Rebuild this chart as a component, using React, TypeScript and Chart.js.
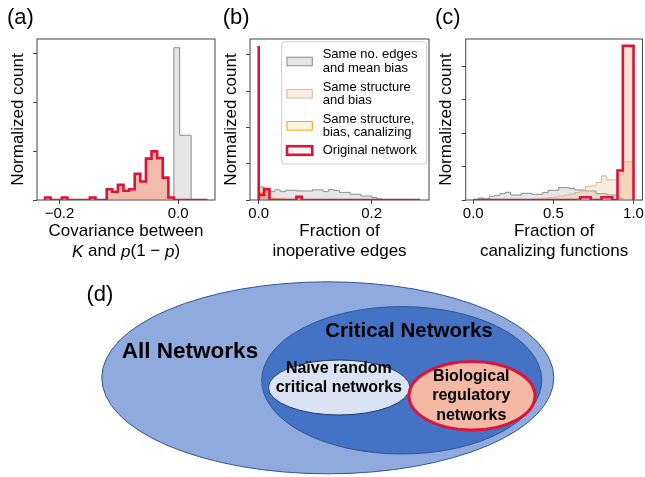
import React, { useEffect, useRef } from "react";
import { Chart, registerables } from "chart.js";

Chart.register(...registerables);

const FONT = "'Liberation Sans', Arial, Helvetica, sans-serif";
Chart.defaults.font.family = FONT;
Chart.defaults.color = "#000";

// ---------------- DATA ----------------
// (a) Covariance between K and p(1-p)
const covTicks = [-0.2, 0.0];
const covBinStart = -0.2245;
const covBinWidth = 0.00945;
const covOriginal = [0, 0.05, 0, 0, 0.05, 0, 0, 0, 0, 0.05, 0, 0, 0.22, 0.17, 0.31, 0.19, 0.22, 0.54, 0.38, 0.85, 1.0, 0.86, 0.46, 0.05, 0, 0, 0, 0, 0];
const covStructure = [0, 0.05, 0, 0, 0.05, 0, 0, 0, 0, 0.05, 0, 0, 0.22, 0.17, 0.31, 0.19, 0.22, 0.54, 0.38, 0.85, 1.0, 0.86, 0.46, 0.05, 0, 0, 0, 0, 0];
const covCanalizing = [0, 0.05, 0, 0, 0.05, 0, 0, 0, 0, 0.05, 0, 0, 0.22, 0.17, 0.31, 0.19, 0.22, 0.54, 0.38, 0.85, 1.0, 0.86, 0.46, 0.05, 0, 0, 0, 0, 0];
const covGrayStart = -0.0073;
const covGrayWidth = 0.0097;
const covGray = [0.77, 3.13, 1.33];

// (b) Fraction of inoperative edges
const inopTicks = [0.0, 0.2];
const inopBinStart = 0;
const inopBinWidth = 0.00952;
const inopOriginal = [4.24, 0.14, 0.3, 0, 0, 0, 0, 0, 0.09, 0, 0, 0, 0, 0, 0, 0, 0, 0, 0, 0, 0, 0, 0, 0, 0, 0, 0, 0, 0, 0];
const inopCanalizing = [4.1, 0.2, 0.22, 0.03, 0.02, 0.02, 0.01, 0, 0.03, 0, 0, 0, 0, 0, 0, 0, 0, 0, 0, 0, 0, 0, 0, 0, 0, 0, 0, 0, 0, 0];
const inopStructure = [4.0, 0.36, 0.12, 0.06, 0.04, 0.03, 0.02, 0.02, 0.01, 0.01, 0, 0, 0, 0, 0, 0, 0, 0, 0, 0, 0, 0, 0, 0, 0, 0, 0, 0, 0, 0];
const inopGray = [0.35, 0.36, 0.29, 0.23, 0.28, 0.23, 0.27, 0.27, 0.25, 0.25, 0.25, 0.28, 0.28, 0.23, 0.29, 0.26, 0.21, 0.21, 0.16, 0.16, 0.11, 0.11, 0.07, 0.03, 0, 0, 0, 0, 0, 0];

// (c) Fraction of canalizing functions
const canTicks = [0.0, 0.5, 1.0];
const canBinStart = 0;
const canBinWidth = 1 / 30;
const canOriginal = [0, 0, 0, 0, 0, 0, 0, 0, 0, 0, 0, 0, 0, 0, 0, 0, 0, 0, 0, 0, 0, 0.08, 0.08, 0, 0, 0.08, 0.08, 0, 0.88, 4.6];
const canCanalizing = [0, 0, 0, 0, 0, 0, 0, 0, 0, 0, 0, 0, 0, 0, 0, 0, 0, 0, 0, 0, 0, 0.08, 0.08, 0, 0, 0.08, 0.08, 0, 0.88, 4.6];
const canStructure = [0, 0, 0, 0, 0, 0, 0, 0, 0, 0, 0, 0, 0.02, 0.03, 0.05, 0.07, 0.09, 0.12, 0.15, 0.18, 0.22, 0.27, 0.4, 0.42, 0.52, 0.72, 0.6, 0.6, 0.75, 1.14];
const canGray = [0, 0, 0.06, 0.03, 0.11, 0.14, 0.19, 0.23, 0.15, 0.15, 0.2, 0.2, 0.17, 0.17, 0.22, 0.29, 0.29, 0.37, 0.37, 0.34, 0.3, 0.3, 0.27, 0.27, 0.19, 0.19, 0.15, 0.15, 0.05, 0];

const yTicks3 = [0, 1, 2, 3];
const yTicks4 = [0, 1, 2, 3, 4];

const legendLabels = {
  gray: ["Same no. edges", "and mean bias"],
  tan: ["Same structure", "and bias"],
  orange: ["Same structure,", "bias, canalizing"],
  red: ["Original network"],
};

// (d) diagram
const vennNames = ["All Networks", "Critical Networks", "Naïve random critical networks", "Biological regulatory networks"];

// ---------------- STYLES ----------------
const SERIES: Record<string, { border: string; fill: string; width: number }> = {
  gray: { border: "#8c8c8c", fill: "rgba(140,140,140,0.22)", width: 1 },
  tan: { border: "#deb887", fill: "rgba(222,184,135,0.25)", width: 1 },
  orange: { border: "#ffa500", fill: "rgba(255,165,0,0.12)", width: 1 },
  red: { border: "#dc143c", fill: "rgba(220,20,60,0.2)", width: 2.6 },
};

const CANVAS_H = 265;
const AREA_TOP = 39;
const AREA_BOTTOM = 200;

function stepPoints(start: number, width: number, values: number[]) {
  const pts = [{ x: start, y: 0 }];
  values.forEach((v, i) => pts.push({ x: start + i * width, y: v }));
  const end = start + values.length * width;
  pts.push({ x: end, y: values[values.length - 1] });
  pts.push({ x: end, y: 0 });
  return pts;
}

function fmtTick(v: number) {
  const s = Math.abs(v).toFixed(1);
  return v < -1e-9 ? "\u2212" + s : s;
}

type SeriesDef = { key: string; start: number; width: number; values: number[] };

type PanelCfg = {
  label: string;
  labelX: number;
  canvasLeft: number;
  canvasWidth: number;
  yWidth: number;
  areaRight: number;
  xMin: number;
  xMax: number;
  xTicks: number[];
  yMax: number;
  yTicks: number[];
  yTitlePad: number;
  xTitle: string[];
  series: SeriesDef[];
  legend?: boolean;
  mathLine?: boolean;
  redFill?: string;
};

const panels: PanelCfg[] = [
  {
    label: "(a)", labelX: 7, canvasLeft: 0, canvasWidth: 220, yWidth: 37, areaRight: 215,
    xMin: -0.238, xMax: 0.062, xTicks: covTicks, yMax: 3.308, yTicks: yTicks3, yTitlePad: 8.3,
    xTitle: ["Covariance between", ""], mathLine: true,
    series: [
      { key: "red", start: covBinStart, width: covBinWidth, values: covOriginal },
      { key: "orange", start: covBinStart, width: covBinWidth, values: covCanalizing },
      { key: "tan", start: covBinStart, width: covBinWidth, values: covStructure },
      { key: "gray", start: covGrayStart, width: covGrayWidth, values: covGray },
    ],
  },
  {
    label: "(b)", labelX: 4.7, canvasLeft: 218, canvasWidth: 214, yWidth: 32, areaRight: 211,
    xMin: -0.0154, xMax: 0.3014, xTicks: inopTicks, yMax: 4.435, yTicks: yTicks4, yTitlePad: 3.5,
    xTitle: ["Fraction of", "inoperative edges"], legend: true,
    series: [
      { key: "red", start: inopBinStart, width: inopBinWidth, values: inopOriginal },
      { key: "orange", start: inopBinStart, width: inopBinWidth, values: inopCanalizing },
      { key: "tan", start: inopBinStart, width: inopBinWidth, values: inopStructure },
      { key: "gray", start: inopBinStart, width: inopBinWidth, values: inopGray },
    ],
  },
  {
    label: "(c)", labelX: 3, canvasLeft: 432, canvasWidth: 213, yWidth: 33.7, areaRight: 212,
    xMin: -0.047, xMax: 1.0557, xTicks: canTicks, yMax: 4.806, yTicks: yTicks4, yTitlePad: 3.8,
    xTitle: ["Fraction of", "canalizing functions"], redFill: "rgba(220,20,60,0.07)",
    series: [
      { key: "red", start: canBinStart, width: canBinWidth, values: canOriginal },
      { key: "orange", start: canBinStart, width: canBinWidth, values: canCanalizing },
      { key: "tan", start: canBinStart, width: canBinWidth, values: canStructure },
      { key: "gray", start: canBinStart, width: canBinWidth, values: canGray },
    ],
  },
];

function roundRect(ctx: CanvasRenderingContext2D, x: number, y: number, w: number, h: number, r: number) {
  ctx.beginPath();
  ctx.moveTo(x + r, y);
  ctx.lineTo(x + w - r, y);
  ctx.arcTo(x + w, y, x + w, y + r, r);
  ctx.lineTo(x + w, y + h - r);
  ctx.arcTo(x + w, y + h, x + w - r, y + h, r);
  ctx.lineTo(x + r, y + h);
  ctx.arcTo(x, y + h, x, y + h - r, r);
  ctx.lineTo(x, y + r);
  ctx.arcTo(x, y, x + r, y, r);
  ctx.closePath();
}

function HistPanel({ cfg }: { cfg: PanelCfg }) {
  const ref = useRef<HTMLCanvasElement>(null);
  useEffect(() => {
    const tickGrid = {
      display: true,
      drawOnChartArea: false,
      drawTicks: true,
      tickLength: 4,
      color: "#444",
      lineWidth: 1,
    };
    const framePlugin = {
      id: "frame",
      beforeDatasetsDraw(chart: any) {
        const { ctx, chartArea: a } = chart;
        ctx.save();
        ctx.strokeStyle = "#444";
        ctx.lineWidth = 1;
        ctx.strokeRect(a.left, a.top, a.right - a.left, a.bottom - a.top);
        ctx.restore();
      },
    };
    const labelPlugin = {
      id: "panelLabel",
      afterDraw(chart: any) {
        const { ctx, chartArea: a } = chart;
        ctx.save();
        ctx.fillStyle = "#000";
        ctx.textBaseline = "middle";
        ctx.textAlign = "left";
        ctx.font = `22px ${FONT}`;
        ctx.fillText(cfg.label, cfg.labelX, 18);
        if (cfg.mathLine) {
          const segs: [string, boolean][] = [["K", true], [" and ", false], ["p", true], ["(1 \u2212 ", false], ["p", true], [")", false]];
          const fontN = `17px ${FONT}`;
          const fontI = `italic 17px ${FONT}`;
          let total = 0;
          segs.forEach(([t, it]) => { ctx.font = it ? fontI : fontN; total += ctx.measureText(t).width; });
          let x = (a.left + a.right) / 2 - total / 2;
          const y = CANVAS_H - 10.2 - 3;
          segs.forEach(([t, it]) => {
            ctx.font = it ? fontI : fontN;
            ctx.fillText(t, x, y);
            x += ctx.measureText(t).width;
          });
        }
        if (cfg.legend) {
          ctx.font = `13px ${FONT}`;
          const bx = 63.7, by = 41.7, bw = 145, bh = 122.3;
          roundRect(ctx, bx, by, bw, bh, 3);
          ctx.fillStyle = "rgba(255,255,255,0.85)";
          ctx.fill();
          ctx.strokeStyle = "#cccccc";
          ctx.lineWidth = 1;
          ctx.stroke();
          const entries: [string, number][] = [["gray", 61.5], ["tan", 93.7], ["orange", 125.8], ["red", 150.5]];
          entries.forEach(([key, cy]) => {
            const st = SERIES[key];
            const sw = key === "red" ? 2.6 : 1;
            ctx.fillStyle = "#fff";
            ctx.fillRect(69, cy - 4.3, 25.3, 8.6);
            ctx.fillStyle = key === "red" ? "rgba(220,20,60,0.04)" : st.fill;
            ctx.fillRect(69, cy - 4.3, 25.3, 8.6);
            ctx.strokeStyle = st.border;
            ctx.lineWidth = sw;
            ctx.strokeRect(69, cy - 4.3, 25.3, 8.6);
            const lines = (legendLabels as any)[key] as string[];
            const lh = 13.3;
            ctx.fillStyle = "#000";
            lines.forEach((ln, i) => {
              ctx.fillText(ln, 104.7, cy - ((lines.length - 1) * lh) / 2 + i * lh);
            });
          });
        }
        ctx.restore();
      },
    };
    const chart = new Chart(ref.current as HTMLCanvasElement, {
      type: "line",
      data: {
        datasets: cfg.series.map((s) => ({
          label: s.key,
          data: stepPoints(s.start, s.width, s.values),
          stepped: "after",
          borderColor: SERIES[s.key].border,
          backgroundColor: s.key === "red" && cfg.redFill ? cfg.redFill : SERIES[s.key].fill,
          borderWidth: SERIES[s.key].width,
          fill: "origin",
          pointRadius: 0,
          pointHoverRadius: 0,
          tension: 0,
          borderJoinStyle: "miter",
        })) as any,
      },
      options: {
        animation: false,
        responsive: false,
        maintainAspectRatio: false,
        devicePixelRatio: 1,
        events: [],
        layout: { padding: { left: 0, right: cfg.canvasWidth - cfg.areaRight, top: AREA_TOP, bottom: 0 } },
        plugins: { legend: { display: false }, tooltip: { enabled: false }, title: { display: false } },
        scales: {
          x: {
            type: "linear",
            min: cfg.xMin,
            max: cfg.xMax,
            afterFit: (s: any) => { s.height = CANVAS_H - AREA_BOTTOM; },
            afterBuildTicks: (s: any) => { s.ticks = cfg.xTicks.map((v) => ({ value: v })); },
            ticks: { callback: (v: any) => fmtTick(Number(v)), font: { size: 15 }, color: "#000", padding: 1, maxRotation: 0, autoSkip: false },
            grid: tickGrid,
            border: { display: false },
            title: { display: true, text: cfg.xTitle, font: { size: 17 }, color: "#000", padding: { top: 0, bottom: 3 } },
          },
          y: {
            type: "linear",
            min: 0,
            max: cfg.yMax,
            afterFit: (s: any) => { s.width = cfg.yWidth; },
            afterBuildTicks: (s: any) => { s.ticks = cfg.yTicks.map((v) => ({ value: v })); },
            ticks: { callback: () => "", font: { size: 15 } },
            grid: tickGrid,
            border: { display: false },
            title: { display: true, text: "Normalized count", font: { size: 17 }, color: "#000", padding: { top: cfg.yTitlePad, bottom: 0 } },
          },
        },
      } as any,
      plugins: [framePlugin, labelPlugin],
    });
    return () => chart.destroy();
  }, []);
  return (
    <canvas
      ref={ref}
      width={cfg.canvasWidth}
      height={CANVAS_H}
      style={{ position: "absolute", left: cfg.canvasLeft, top: 0, width: cfg.canvasWidth, height: CANVAS_H }}
    />
  );
}

// geometry of the diagram, in page units
const vennShapes = [
  { cx: 327.8, cy: 377.8, rx: 226, ry: 96, fill: "#8faadc", stroke: "#2f5597", lw: 1 },
  { cx: 401.7, cy: 380.3, rx: 140, ry: 73.7, fill: "#4472c4", stroke: "#2f5597", lw: 1 },
  { cx: 339.2, cy: 387.5, rx: 70.8, ry: 27.5, fill: "#dae3f3", stroke: "#203864", lw: 1 },
  { cx: 472, cy: 395.8, rx: 63, ry: 34.2, fill: "#f4b9a4", stroke: "#dc143c", lw: 3 },
];
const vennText = [
  { lines: ["All Networks"], x: 190, y: 351.7, size: 22.5, lh: 0 },
  { lines: ["Critical Networks"], x: 409, y: 331.7, size: 20.5, lh: 0 },
  { lines: ["Naïve random", "critical networks"], x: 338.8, y: 368.3, size: 16, lh: 19 },
  { lines: ["Biological", "regulatory", "networks"], x: 471.3, y: 376.7, size: 16, lh: 19.2 },
];

function VennPanel() {
  const ref = useRef<HTMLCanvasElement>(null);
  useEffect(() => {
    const vennPlugin = {
      id: "venn",
      afterDraw(chart: any) {
        const { ctx } = chart;
        const xs = chart.scales.x;
        const ys = chart.scales.y;
        ctx.save();
        vennShapes.forEach((s) => {
          const px = xs.getPixelForValue(s.cx);
          const py = ys.getPixelForValue(s.cy);
          const rx = Math.abs(xs.getPixelForValue(s.cx + s.rx) - px);
          const ry = Math.abs(ys.getPixelForValue(s.cy + s.ry) - py);
          ctx.beginPath();
          ctx.ellipse(px, py, rx, ry, 0, 0, Math.PI * 2);
          ctx.fillStyle = s.fill;
          ctx.fill();
          ctx.strokeStyle = s.stroke;
          ctx.lineWidth = s.lw;
          ctx.stroke();
        });
        ctx.fillStyle = "#000";
        ctx.textAlign = "center";
        ctx.textBaseline = "middle";
        vennText.forEach((t) => {
          ctx.font = `bold ${t.size}px ${FONT}`;
          t.lines.forEach((ln, j) => {
            ctx.fillText(ln, xs.getPixelForValue(t.x), ys.getPixelForValue(t.y + j * t.lh));
          });
        });
        ctx.textAlign = "left";
        ctx.font = `22px ${FONT}`;
        ctx.fillText("(d)", xs.getPixelForValue(86.5), ys.getPixelForValue(295));
        ctx.restore();
      },
    };
    const chart = new Chart(ref.current as HTMLCanvasElement, {
      type: "scatter",
      data: { labels: vennNames, datasets: [] },
      options: {
        animation: false,
        responsive: false,
        maintainAspectRatio: false,
        devicePixelRatio: 1,
        events: [],
        layout: { padding: 0 },
        plugins: { legend: { display: false }, tooltip: { enabled: false } },
        scales: {
          x: { type: "linear", min: 0, max: 645, display: false },
          y: { type: "linear", min: 270, max: 477, reverse: true, display: false },
        },
      } as any,
      plugins: [vennPlugin],
    });
    return () => chart.destroy();
  }, []);
  return (
    <canvas
      ref={ref}
      width={645}
      height={207}
      style={{ position: "absolute", left: 0, top: 270, width: 645, height: 207 }}
    />
  );
}

export default function App() {
  return (
    <div style={{ position: "absolute", left: 0, top: 0, width: 645, height: 477, background: "#fff", overflow: "hidden" }}>
      {panels.map((p) => (
        <HistPanel key={p.label} cfg={p} />
      ))}
      <VennPanel />
    </div>
  );
}
